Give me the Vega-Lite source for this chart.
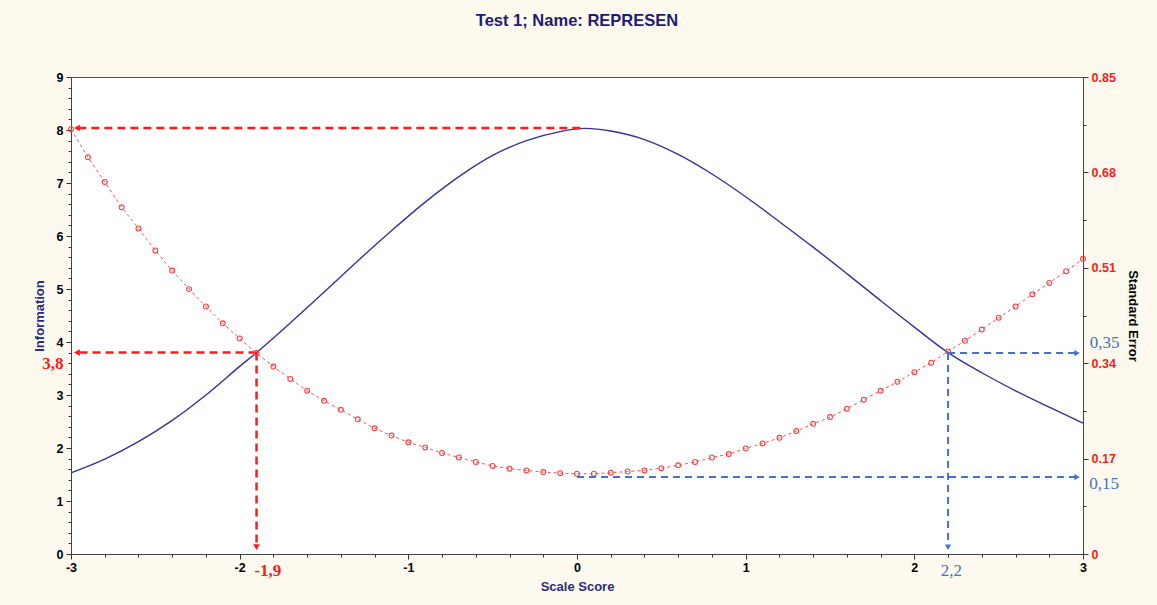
{
  "$schema": "https://vega.github.io/schema/vega-lite/v6.json",
  "width": 1012,
  "height": 477,
  "autosize": {"type": "none"},
  "padding": {"left": 71, "top": 77, "right": 74, "bottom": 51},
  "background": "#fdf9ee",
  "config": {
    "view": {"fill": "#ffffff", "stroke": "#555555", "strokeWidth": 1}
  },
  "title": {
    "text": "Test  1; Name: REPRESEN",
    "color": "#1c1c78",
    "font": "Liberation Sans Narrow, Liberation Sans, Arial",
    "fontSize": 16.5,
    "fontWeight": "bold",
    "anchor": "middle",
    "offset": 42
  },
  "datasets": {
    "info": [
      {"x": -3.0, "y": 1.53}, {"x": -2.8, "y": 1.79}, {"x": -2.6, "y": 2.12}, {"x": -2.4, "y": 2.52},
      {"x": -2.2, "y": 3.0}, {"x": -2.0, "y": 3.54}, {"x": -1.9, "y": 3.8}, {"x": -1.7, "y": 4.36},
      {"x": -1.5, "y": 4.94}, {"x": -1.3, "y": 5.53}, {"x": -1.1, "y": 6.1}, {"x": -0.9, "y": 6.64},
      {"x": -0.7, "y": 7.12}, {"x": -0.5, "y": 7.52}, {"x": -0.3, "y": 7.8}, {"x": -0.1, "y": 7.97},
      {"x": 0.05, "y": 8.03}, {"x": 0.2, "y": 7.98}, {"x": 0.4, "y": 7.82}, {"x": 0.6, "y": 7.54},
      {"x": 0.8, "y": 7.17}, {"x": 1.0, "y": 6.74}, {"x": 1.2, "y": 6.27}, {"x": 1.4, "y": 5.79},
      {"x": 1.6, "y": 5.29}, {"x": 1.8, "y": 4.78}, {"x": 2.0, "y": 4.28}, {"x": 2.2, "y": 3.8},
      {"x": 2.4, "y": 3.42}, {"x": 2.6, "y": 3.08}, {"x": 2.8, "y": 2.77}, {"x": 3.0, "y": 2.47}
    ],
    "se": [
      {"x": -3.0, "y": 0.757}, {"x": -2.9, "y": 0.707}, {"x": -2.8, "y": 0.663}, {"x": -2.7, "y": 0.618},
      {"x": -2.6, "y": 0.58}, {"x": -2.5, "y": 0.541}, {"x": -2.4, "y": 0.505}, {"x": -2.3, "y": 0.472},
      {"x": -2.2, "y": 0.441}, {"x": -2.1, "y": 0.411}, {"x": -2.0, "y": 0.384}, {"x": -1.9, "y": 0.358},
      {"x": -1.8, "y": 0.334}, {"x": -1.7, "y": 0.312}, {"x": -1.6, "y": 0.291}, {"x": -1.5, "y": 0.273},
      {"x": -1.4, "y": 0.257}, {"x": -1.3, "y": 0.24}, {"x": -1.2, "y": 0.224}, {"x": -1.1, "y": 0.211},
      {"x": -1.0, "y": 0.199}, {"x": -0.9, "y": 0.19}, {"x": -0.8, "y": 0.18}, {"x": -0.7, "y": 0.172},
      {"x": -0.6, "y": 0.164}, {"x": -0.5, "y": 0.157}, {"x": -0.4, "y": 0.152}, {"x": -0.3, "y": 0.149},
      {"x": -0.2, "y": 0.146}, {"x": -0.1, "y": 0.144}, {"x": 0.0, "y": 0.143}, {"x": 0.1, "y": 0.143},
      {"x": 0.2, "y": 0.145}, {"x": 0.3, "y": 0.147}, {"x": 0.4, "y": 0.149}, {"x": 0.5, "y": 0.153},
      {"x": 0.6, "y": 0.158}, {"x": 0.7, "y": 0.164}, {"x": 0.8, "y": 0.172}, {"x": 0.9, "y": 0.178},
      {"x": 1.0, "y": 0.188}, {"x": 1.1, "y": 0.197}, {"x": 1.2, "y": 0.207}, {"x": 1.3, "y": 0.219},
      {"x": 1.4, "y": 0.232}, {"x": 1.5, "y": 0.244}, {"x": 1.6, "y": 0.259}, {"x": 1.7, "y": 0.275},
      {"x": 1.8, "y": 0.291}, {"x": 1.9, "y": 0.307}, {"x": 2.0, "y": 0.324}, {"x": 2.1, "y": 0.341},
      {"x": 2.2, "y": 0.361}, {"x": 2.3, "y": 0.38}, {"x": 2.4, "y": 0.4}, {"x": 2.5, "y": 0.421},
      {"x": 2.6, "y": 0.441}, {"x": 2.7, "y": 0.463}, {"x": 2.8, "y": 0.483}, {"x": 2.9, "y": 0.504},
      {"x": 3.0, "y": 0.526}
    ],
    "redSeg": [
      {"x": 0.02, "y": 8.04, "x2": -2.96, "y2": 8.04},
      {"x": -1.9, "y": 3.8, "x2": -2.96, "y2": 3.8},
      {"x": -1.9, "y": 3.8, "x2": -1.9, "y2": 0.15}
    ],
    "redHead": [
      {"x": -2.965, "y": 8.04, "dir": "left"},
      {"x": -2.965, "y": 3.8, "dir": "left"},
      {"x": -1.9, "y": 0.13, "dir": "down"}
    ],
    "redText": [
      {"x": -3.108, "y": 3.59, "label": "3,8"},
      {"x": -1.833, "y": -0.32, "label": "-1,9"}
    ],
    "blueSeg": [
      {"x": 2.2, "y": 0.358, "x2": 2.96, "y2": 0.358},
      {"x": 0.0, "y": 0.137, "x2": 2.96, "y2": 0.137},
      {"x": 2.2, "y": 0.358, "x2": 2.2, "y2": 0.015}
    ],
    "blueHead": [
      {"x": 2.965, "y": 0.358, "dir": "right"},
      {"x": 2.965, "y": 0.137, "dir": "right"},
      {"x": 2.2, "y": 0.012, "dir": "down"}
    ],
    "blueText": [
      {"x": 3.128, "y": 0.376, "label": "0,35"},
      {"x": 3.125, "y": 0.125, "label": "0,15"},
      {"x": 2.219, "y": -0.03, "label": "2,2"}
    ]
  },
  "encoding": {
    "x": {
      "field": "x",
      "type": "quantitative",
      "scale": {"domain": [-3, 3], "nice": false, "zero": false},
      "axis": {
        "title": "Scale Score",
        "titleColor": "#2a2a8a",
        "titleFont": "Liberation Sans Narrow, Liberation Sans, Arial",
        "titleFontSize": 13,
        "titleFontWeight": "bold",
        "titlePadding": 7,
        "values": [-3, -2.8, -2.6, -2.4, -2.2, -2, -1.8, -1.6, -1.4, -1.2, -1, -0.8, -0.6, -0.4, -0.2, 0, 0.2, 0.4, 0.6, 0.8, 1, 1.2, 1.4, 1.6, 1.8, 2, 2.2, 2.4, 2.6, 2.8, 3],
        "labelExpr": "abs(datum.value - round(datum.value)) < 0.01 ? '' + round(datum.value) : ''",
        "labelColor": "#000000",
        "labelFont": "Liberation Sans Narrow, Liberation Sans, Arial",
        "labelFontSize": 12.5,
        "labelFontWeight": "bold",
        "labelOverlap": false,
        "labelFlush": false,
        "labelPadding": 2,
        "tickSize": {"condition": {"test": "abs(datum.value - round(datum.value)) < 0.01", "value": 5}, "value": 3},
        "tickColor": "#333333",
        "domainColor": "#444444",
        "grid": false
      }
    }
  },
  "layer": [
    {
      "encoding": {
        "y": {
          "field": "y",
          "type": "quantitative",
          "scale": {"domain": [0, 9], "nice": false, "zero": false},
          "axis": {
            "orient": "left",
            "title": "Information",
            "titleColor": "#2a2a8a",
            "titleFont": "Liberation Sans Narrow, Liberation Sans, Arial",
            "titleFontSize": 13,
            "titleFontWeight": "bold",
            "titlePadding": 10,
            "values": [0, 0.2, 0.4, 0.6, 0.8, 1, 1.2, 1.4, 1.6, 1.8, 2, 2.2, 2.4, 2.6, 2.8, 3, 3.2, 3.4, 3.6, 3.8, 4, 4.2, 4.4, 4.6, 4.8, 5, 5.2, 5.4, 5.6, 5.8, 6, 6.2, 6.4, 6.6, 6.8, 7, 7.2, 7.4, 7.6, 7.8, 8, 8.2, 8.4, 8.6, 8.8, 9],
            "labelExpr": "abs(datum.value - round(datum.value)) < 0.01 ? '' + round(datum.value) : ''",
            "labelColor": "#000000",
            "labelFont": "Liberation Sans Narrow, Liberation Sans, Arial",
            "labelFontSize": 12.5,
            "labelFontWeight": "bold",
            "labelOverlap": false,
            "labelFlush": false,
            "labelPadding": 3,
            "tickSize": {"condition": {"test": "abs(datum.value - round(datum.value)) < 0.01", "value": 5}, "value": 3},
            "tickColor": "#333333",
            "domainColor": "#444444",
            "grid": false
          }
        }
      },
      "layer": [
        {
          "data": {"name": "info"},
          "mark": {"type": "line", "color": "#32329c", "strokeWidth": 1.4, "interpolate": "catmull-rom"}
        },
        {
          "data": {"name": "redSeg"},
          "mark": {"type": "rule", "color": "#ff1a1a", "strokeWidth": 2.5, "strokeDash": [8, 5]},
          "encoding": {"x2": {"field": "x2"}, "y2": {"field": "y2"}}
        },
        {
          "data": {"name": "redHead"},
          "mark": {"type": "point", "filled": true, "color": "#ff1a1a", "size": 45, "opacity": 1},
          "encoding": {
            "shape": {"field": "dir", "type": "nominal", "scale": {"domain": ["left", "down", "right"], "range": ["triangle-left", "triangle-down", "triangle-right"]}, "legend": null}
          }
        },
        {
          "data": {"name": "redText"},
          "mark": {"type": "text", "color": "#ff1a1a", "font": "Liberation Serif", "fontSize": 17, "fontWeight": "bold"},
          "encoding": {"text": {"field": "label"}}
        }
      ]
    },
    {
      "encoding": {
        "y": {
          "field": "y",
          "type": "quantitative",
          "scale": {"domain": [0, 0.85], "nice": false, "zero": false},
          "axis": {
            "orient": "right",
            "title": "Standard Error",
            "titleColor": "#000000",
            "titleFont": "Liberation Sans Narrow, Liberation Sans, Arial",
            "titleFontSize": 13,
            "titleFontWeight": "bold",
            "titlePadding": 10,
            "values": [0, 0.085, 0.17, 0.255, 0.34, 0.425, 0.51, 0.595, 0.68, 0.765, 0.85],
            "labelExpr": "abs(datum.value / 0.17 - round(datum.value / 0.17)) < 0.01 ? (datum.value < 0.001 ? '0' : format(datum.value, '.2f')) : ''",
            "labelColor": "#ff1a1a",
            "labelFont": "Liberation Sans Narrow, Liberation Sans, Arial",
            "labelFontSize": 12.5,
            "labelFontWeight": "bold",
            "labelOverlap": false,
            "labelFlush": false,
            "labelPadding": 3,
            "tickSize": {"condition": {"test": "abs(datum.value / 0.17 - round(datum.value / 0.17)) < 0.01", "value": 5}, "value": 3},
            "tickColor": "#333333",
            "domainColor": "#444444",
            "grid": false
          }
        }
      },
      "layer": [
        {
          "data": {"name": "se"},
          "mark": {"type": "line", "color": "#ff5050", "strokeWidth": 1, "strokeDash": [3, 3]}
        },
        {
          "data": {"name": "se"},
          "mark": {"type": "point", "shape": "circle", "filled": false, "color": "#ff4040", "size": 24, "strokeWidth": 1.1, "opacity": 1}
        },
        {
          "data": {"name": "blueSeg"},
          "mark": {"type": "rule", "color": "#4472c4", "strokeWidth": 2, "strokeDash": [7, 5]},
          "encoding": {"x2": {"field": "x2"}, "y2": {"field": "y2"}}
        },
        {
          "data": {"name": "blueHead"},
          "mark": {"type": "point", "filled": true, "color": "#4472c4", "size": 40, "opacity": 1},
          "encoding": {
            "shape": {"field": "dir", "type": "nominal", "scale": {"domain": ["left", "down", "right"], "range": ["triangle-left", "triangle-down", "triangle-right"]}, "legend": null}
          }
        },
        {
          "data": {"name": "blueText"},
          "mark": {"type": "text", "color": "#4472c4", "font": "Liberation Serif", "fontSize": 17},
          "encoding": {"text": {"field": "label"}}
        }
      ]
    }
  ],
  "resolve": {"scale": {"y": "independent"}}
}
